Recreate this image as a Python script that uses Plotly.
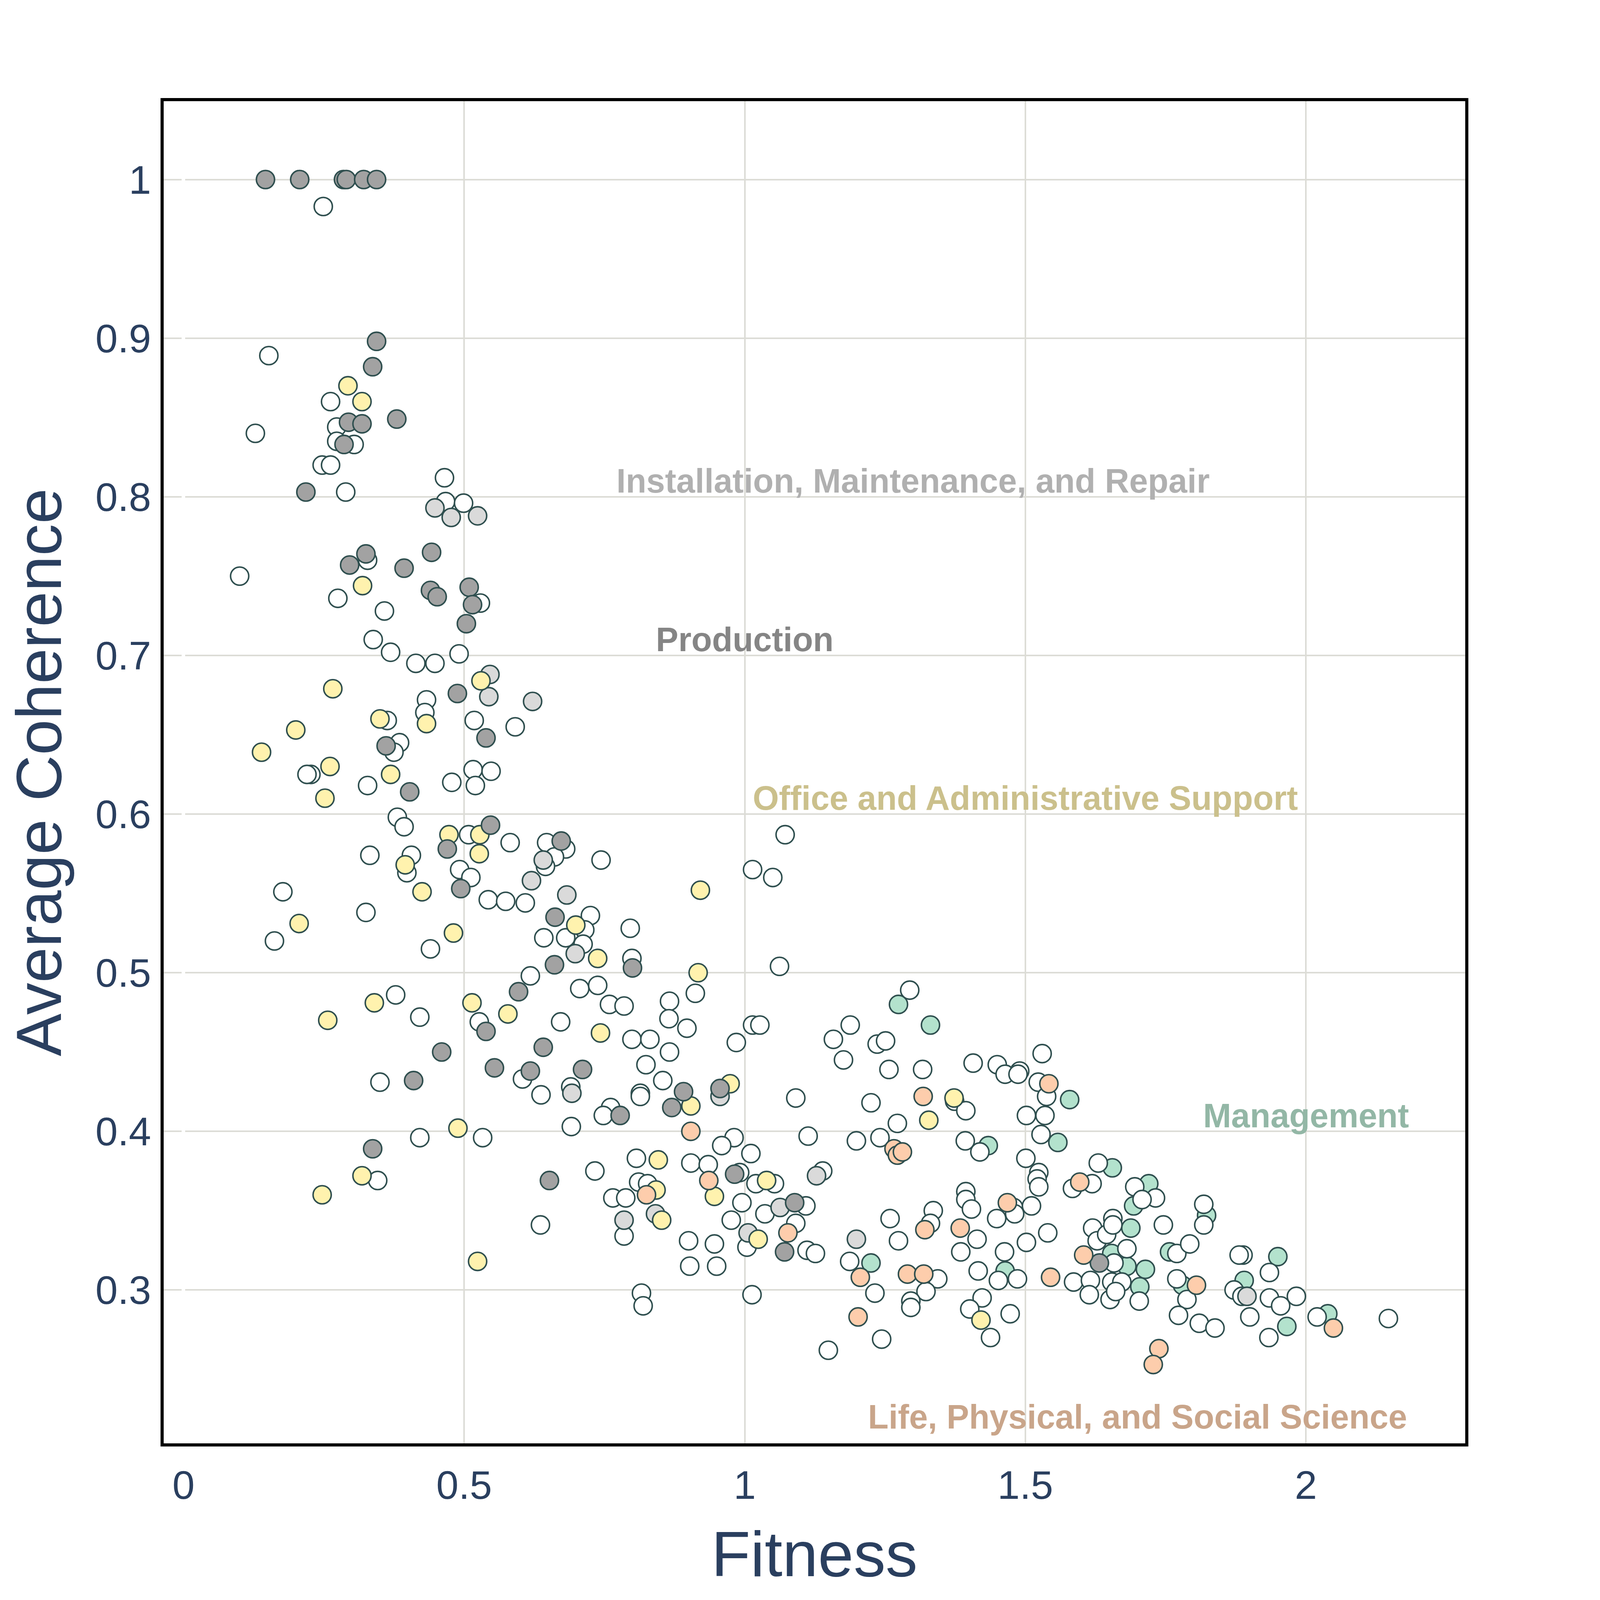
import plotly.graph_objects as go

# fitness / average coherence per occupation group
other_fitness = [
    0.249, 0.152, 0.262, 0.128, 0.273, 0.273, 0.304, 0.247, 0.262, 0.289, 0.465, 0.467, 0.499,
    0.100, 0.328, 0.275, 0.529, 0.358, 0.338, 0.369, 0.414, 0.448, 0.491,
    0.433, 0.430, 0.518, 0.591, 0.363, 0.385, 0.375, 0.227, 0.220, 0.328,
    0.478, 0.516, 0.548, 0.520, 0.381, 0.393, 0.508, 0.582, 0.647, 0.681,
    0.661, 0.645, 0.744, 0.332, 0.406, 0.398, 0.492, 0.512, 0.543, 0.574,
    0.609, 0.177, 0.162, 0.325, 0.440, 0.725, 0.715, 0.681, 0.642, 0.618,
    0.706, 0.738, 0.378, 0.421, 0.527, 0.672, 0.604, 0.690, 0.637, 0.350,
    0.691, 0.421, 0.533, 0.346, 0.636,
    1.072, 1.014, 1.050, 0.796, 0.712, 0.799, 1.062,
    0.759, 0.785, 0.866, 0.912, 0.865, 0.897, 0.799, 0.831, 0.866, 0.824,
    0.854, 0.814, 0.814, 0.761, 0.748, 1.014, 1.027, 0.985, 1.091, 1.158,
    1.188, 1.176, 1.236, 1.251, 1.257, 1.225, 1.272, 1.294, 1.113, 1.199,
    1.241, 0.981, 0.959, 1.011, 0.807, 0.733, 0.904, 0.935, 0.991, 1.020,
    1.053, 1.139, 0.811, 0.827, 0.765, 0.788, 0.995, 1.036, 1.109, 1.091,
    0.976, 0.785, 1.004, 1.111, 1.126, 0.900, 0.946, 0.902, 0.950, 0.816,
    0.819, 1.013, 1.259, 1.274, 1.187, 1.232, 1.244, 1.149,
    1.317, 1.407, 1.450, 1.464, 1.490, 1.487, 1.530, 1.523, 1.538, 1.502,
    1.535, 1.528, 1.374, 1.394, 1.393, 1.419, 1.501, 1.524, 1.521, 1.524,
    1.630, 1.619, 1.584, 1.695, 1.732, 1.708, 1.818, 1.818, 1.746, 1.394,
    1.394, 1.404, 1.479, 1.481, 1.449, 1.511, 1.336, 1.331, 1.414, 1.385,
    1.463, 1.502, 1.540, 1.416, 1.452, 1.486, 1.344, 1.323, 1.296, 1.296,
    1.423, 1.401, 1.438, 1.473, 1.620, 1.628, 1.645, 1.656, 1.656, 1.658,
    1.681, 1.586, 1.616, 1.614, 1.651, 1.654, 1.672, 1.661, 1.703, 1.770,
    1.793, 1.770, 1.788, 1.773, 1.810, 1.838, 1.888, 1.881, 1.872, 1.900,
    1.935, 1.935, 1.934,
    1.886, 1.955, 1.983, 2.020, 2.147,
]
other_coherence = [
    0.983, 0.889, 0.860, 0.840, 0.844, 0.835, 0.833, 0.820, 0.820, 0.803, 0.812, 0.797, 0.796,
    0.750, 0.760, 0.736, 0.733, 0.728, 0.710, 0.702, 0.695, 0.695, 0.701,
    0.672, 0.664, 0.659, 0.655, 0.659, 0.645, 0.639, 0.625, 0.625, 0.618,
    0.620, 0.628, 0.627, 0.618, 0.598, 0.592, 0.587, 0.582, 0.582, 0.578,
    0.573, 0.567, 0.571, 0.574, 0.574, 0.563, 0.565, 0.560, 0.546, 0.545,
    0.544, 0.551, 0.520, 0.538, 0.515, 0.536, 0.527, 0.522, 0.522, 0.498,
    0.490, 0.492, 0.486, 0.472, 0.469, 0.469, 0.433, 0.428, 0.423, 0.431,
    0.403, 0.396, 0.396, 0.369, 0.341,
    0.587, 0.565, 0.560, 0.528, 0.518, 0.509, 0.504,
    0.480, 0.479, 0.482, 0.487, 0.471, 0.465, 0.458, 0.458, 0.450, 0.442,
    0.432, 0.424, 0.422, 0.415, 0.410, 0.467, 0.467, 0.456, 0.421, 0.458,
    0.467, 0.445, 0.455, 0.457, 0.439, 0.418, 0.405, 0.489, 0.397, 0.394,
    0.396, 0.396, 0.391, 0.386, 0.383, 0.375, 0.380, 0.379, 0.374, 0.367,
    0.367, 0.375, 0.368, 0.367, 0.358, 0.358, 0.355, 0.348, 0.353, 0.342,
    0.344, 0.334, 0.327, 0.325, 0.323, 0.331, 0.329, 0.315, 0.315, 0.298,
    0.290, 0.297, 0.345, 0.331, 0.318, 0.298, 0.269, 0.262,
    0.439, 0.443, 0.442, 0.436, 0.438, 0.436, 0.449, 0.431, 0.422, 0.410,
    0.410, 0.398, 0.419, 0.413, 0.394, 0.387, 0.383, 0.374, 0.370, 0.365,
    0.380, 0.367, 0.364, 0.365, 0.358, 0.357, 0.354, 0.341, 0.341, 0.362,
    0.357, 0.351, 0.352, 0.348, 0.345, 0.353, 0.350, 0.342, 0.332, 0.324,
    0.324, 0.330, 0.336, 0.312, 0.306, 0.307, 0.307, 0.299, 0.293, 0.289,
    0.295, 0.288, 0.270, 0.285, 0.339, 0.331, 0.335, 0.345, 0.341, 0.317,
    0.326, 0.305, 0.306, 0.297, 0.294, 0.305, 0.305, 0.299, 0.293, 0.323,
    0.329, 0.307, 0.294, 0.284, 0.279, 0.276, 0.322, 0.322, 0.300, 0.283,
    0.311, 0.295, 0.270,
    0.296, 0.290, 0.296, 0.283, 0.282,
]

production_fitness = [
    0.146, 0.207, 0.285, 0.290, 0.321, 0.344,
    0.344, 0.337, 0.380, 0.294, 0.318, 0.286, 0.218,
    0.296, 0.325, 0.393, 0.442, 0.440, 0.452, 0.509, 0.515, 0.504, 0.488,
    0.539, 0.361, 0.403, 0.547, 0.470, 0.673, 0.494, 0.662, 0.661,
    0.597, 0.460, 0.641, 0.554, 0.618, 0.711, 0.410, 0.337, 0.652, 0.539,
    0.800, 0.891, 0.870, 0.956, 0.778, 0.982, 1.089, 1.071, 1.632,
]
production_coherence = [
    1.0, 1.0, 1.0, 1.0, 1.0, 1.0,
    0.898, 0.882, 0.849, 0.847, 0.846, 0.833, 0.803,
    0.757, 0.764, 0.755, 0.765, 0.741, 0.737, 0.743, 0.732, 0.720, 0.676,
    0.648, 0.643, 0.614, 0.593, 0.578, 0.583, 0.553, 0.535, 0.505,
    0.488, 0.450, 0.453, 0.440, 0.438, 0.439, 0.432, 0.389, 0.369, 0.463,
    0.503, 0.425, 0.415, 0.427, 0.410, 0.373, 0.355, 0.324, 0.317,
]

install_fitness = [
    0.448, 0.477, 0.524, 0.546, 0.544, 0.622, 0.641, 0.620, 0.683, 0.698,
    0.692, 0.956, 1.128, 1.063, 0.841, 0.785, 1.006, 1.199, 1.895,
]
install_coherence = [
    0.793, 0.787, 0.788, 0.688, 0.674, 0.671, 0.571, 0.558, 0.549, 0.512,
    0.424, 0.422, 0.372, 0.352, 0.348, 0.344, 0.336, 0.332, 0.296,
]

office_fitness = [
    0.293, 0.318,
    0.319, 0.530, 0.266, 0.433, 0.200, 0.350, 0.139, 0.261, 0.369, 0.252,
    0.473, 0.528, 0.527, 0.395, 0.425, 0.206, 0.481, 0.699, 0.738,
    0.257, 0.340, 0.514, 0.578, 0.743, 0.489, 0.318, 0.247, 0.524,
    0.921, 0.917,
    0.904, 0.974, 0.846, 0.946, 1.039, 0.842, 0.852, 1.024,
    1.373, 1.328, 1.421,
]
office_coherence = [
    0.870, 0.860,
    0.744, 0.684, 0.679, 0.657, 0.653, 0.660, 0.639, 0.630, 0.625, 0.610,
    0.587, 0.587, 0.575, 0.568, 0.551, 0.531, 0.525, 0.530, 0.509,
    0.470, 0.481, 0.481, 0.474, 0.462, 0.402, 0.372, 0.360, 0.318,
    0.552, 0.500,
    0.416, 0.430, 0.382, 0.359, 0.369, 0.363, 0.344, 0.332,
    0.421, 0.407, 0.281,
]

management_fitness = [
    1.274, 1.331, 1.579, 1.558, 1.434, 1.655, 1.720, 1.693, 1.823, 1.688, 1.654,
    1.681, 1.714, 1.464, 1.704, 1.757, 1.780, 1.890, 1.950, 1.966, 2.039, 1.225,
]
management_coherence = [
    0.480, 0.467, 0.420, 0.393, 0.391, 0.377, 0.367, 0.353, 0.347, 0.339, 0.323,
    0.315, 0.313, 0.312, 0.302, 0.324, 0.303, 0.306, 0.321, 0.277, 0.285, 0.317,
]

science_fitness = [
    0.904, 1.266, 1.272, 1.281, 0.936, 0.825, 1.077, 1.206, 1.290, 1.202,
    1.542, 1.318, 1.597, 1.468, 1.321, 1.384, 1.545, 1.319, 1.604, 1.805,
    1.738, 1.728, 2.049,
]
science_coherence = [
    0.400, 0.389, 0.385, 0.387, 0.369, 0.360, 0.336, 0.308, 0.310, 0.283,
    0.430, 0.422, 0.368, 0.355, 0.338, 0.339, 0.308, 0.310, 0.322, 0.303,
    0.263, 0.253, 0.276,
]

# the page is shown in a 4096 css-px viewport; sizes below were measured on the 4750 px picture
S = 4096 / 4750
BODY = 8  # default page margin around the plot div
FONT = "Liberation Sans, Arial, sans-serif"
OUTLINE = "#2f4f4f"
TEXT = "#2a3f5f"

groups = [
    ("Management", management_fitness, management_coherence, "#b3e2cd"),
    ("Other", other_fitness, other_coherence, "#ffffff"),
    ("Installation, Maintenance, and Repair", install_fitness, install_coherence, "#dadada"),
    ("Office and Administrative Support", office_fitness, office_coherence, "#fff2ae"),
    ("Production", production_fitness, production_coherence, "#a2a2a2"),
    ("Life, Physical, and Social Science", science_fitness, science_coherence, "#fdcdac"),
]

fig = go.Figure()
for name, xs, ys, colour in groups:
    fig.add_trace(go.Scatter(
        x=xs, y=ys, mode="markers", name=name,
        marker=dict(size=54 * S, color=colour, line=dict(color=OUTLINE, width=4.5 * S)),
    ))

# group labels placed on the chart
labels = [
    ("Installation, Maintenance, and Repair", 1.3, 0.81, "#b0b0b0"),
    ("Production", 1.0, 0.71, "#858585"),
    ("Office and Administrative Support", 1.5, 0.61, "#cbc08c"),
    ("Management", 2.0, 0.41, "#93b7a6"),
    ("Life, Physical, and Social Science", 1.7, 0.22, "#c9a58a"),
]
for text, x, y, colour in labels:
    fig.add_annotation(
        x=x, y=y, text=text, showarrow=False, xanchor="center", yanchor="middle",
        font=dict(family=FONT, size=100 * S, color=colour, weight="bold"),
    )

axis_common = dict(
    showgrid=True, gridcolor="#dcdcd6", gridwidth=4.75 * S,
    zeroline=True, zerolinecolor="white", zerolinewidth=10 * S,
    showline=True, linecolor="black", linewidth=9.5 * S, mirror=True,
    ticks="outside", tickcolor="rgba(0,0,0,0)",
    tickfont=dict(family=FONT, size=119 * S, color=TEXT),
    automargin=False,
)

fig.update_layout(
    width=4096, height=4096,
    margin=dict(l=486 * S - BODY, r=400 * S + BODY, t=300 * S - BODY, b=465 * S + BODY),
    plot_bgcolor="white", paper_bgcolor="white",
    showlegend=False,
    font=dict(family=FONT, color=TEXT),
    xaxis=dict(
        range=[-0.0354, 2.2839], tick0=0, dtick=0.5, ticklen=12 * S,
        title=dict(text="Fitness", font=dict(family=FONT, size=190 * S, color=TEXT), standoff=76 * S),
        **axis_common,
    ),
    yaxis=dict(
        range=[0.2033, 1.0494], tick0=0, dtick=0.1, ticklen=4 * S,
        title=dict(text="Average Coherence", font=dict(family=FONT, size=190 * S, color=TEXT), standoff=80 * S),
        **axis_common,
    ),
)

fig.write_html("out.html")
